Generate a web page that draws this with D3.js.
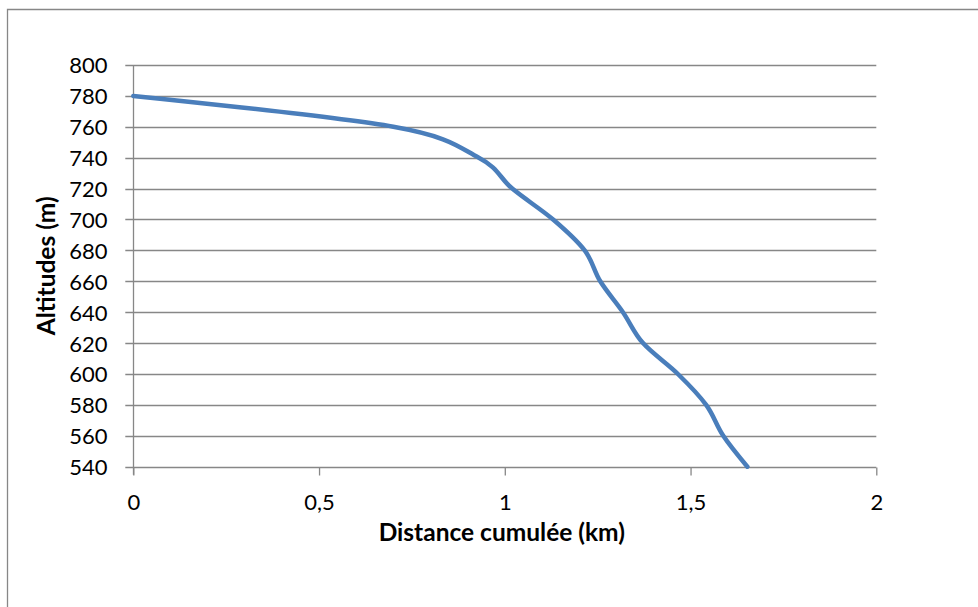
<!DOCTYPE html>
<html><head><meta charset="utf-8">
<script src="https://cdn.jsdelivr.net/npm/d3@7"></script>
<style>body{margin:0;background:#fff}svg{display:block}text{font-family:Lato,"Open Sans",sans-serif;fill:#000}</style>
</head><body>
<svg id="c" width="978" height="607"></svg>
<script>
const distances = [0, 0.70, 0.93, 1.02, 1.13, 1.215, 1.257, 1.318, 1.372, 1.466, 1.542, 1.588, 1.653];
const altitudes = [780, 760, 740, 720, 700, 680, 660, 640, 620, 600, 580, 560, 540];
const xTicks = [0, 0.5, 1, 1.5, 2];
const yTicks = [540, 560, 580, 600, 620, 640, 660, 680, 700, 720, 740, 760, 780, 800];
const xTitle = "Distance cumulée (km)";
const yTitle = "Altitudes (m)";

const svg = d3.select("#c");
const L = 133.3, R = 876.3, T = 65, B = 466.7;
const x = d3.scaleLinear().domain([0, 2]).range([L, R]);
const y = d3.scaleLinear().domain([540, 800]).range([B, T]);
const fmt = d => String(d).replace(".", ",");

// outer border
svg.append("path").attr("d", "M7.5,607V9.5H978").attr("fill", "none").attr("stroke", "#878787").attr("stroke-width", 1.3);

// gridlines
svg.append("g").selectAll("line").data(yTicks).join("line")
  .attr("x1", L - 8).attr("x2", R).attr("y1", d => Math.round(y(d)) + 0.5).attr("y2", d => Math.round(y(d)) + 0.5)
  .attr("stroke", "#878787").attr("stroke-width", 1.3);

// y axis
const yAx = svg.append("g").attr("transform", `translate(${Math.round(L)+0.5},0)`)
  .call(d3.axisLeft(y).tickValues(yTicks).tickSize(0).tickPadding(26).tickFormat(fmt));
yAx.select(".domain").remove();
yAx.selectAll("text").attr("font-size", 22).attr("dy", "0.36em");
svg.append("line").attr("x1", Math.round(L)+0.5).attr("x2", Math.round(L)+0.5).attr("y1", T).attr("y2", B + 8)
  .attr("stroke", "#878787").attr("stroke-width", 1.3);

// x axis
const xAx = svg.append("g").attr("transform", `translate(0,${Math.round(B)+0.5})`)
  .call(d3.axisBottom(x).tickValues(xTicks).tickSize(8).tickPadding(19).tickFormat(fmt));
xAx.select(".domain").remove();
xAx.selectAll("line").attr("stroke", "#878787").attr("stroke-width", 1.3);
xAx.selectAll("text").attr("font-size", 22);

// titles
svg.append("text").attr("x", (L + R) / 2 - 3).attr("y", 541).attr("text-anchor", "middle")
  .attr("font-size", 24.5).attr("font-weight", "bold").text(xTitle);
svg.append("text").attr("transform", `translate(55,${(T + B) / 2}) rotate(-90)`).attr("text-anchor", "middle")
  .attr("font-size", 24.5).attr("font-weight", "bold").text(yTitle);

// line
const pts = distances.map((d, i) => [d, altitudes[i]]);
svg.append("path").datum(pts)
  .attr("d", d3.line().x(d => x(d[0])).y(d => y(d[1])).curve(d3.curveCatmullRom.alpha(0)))
  .attr("fill", "none").attr("stroke", "#4a7ebb").attr("stroke-width", 4.5).attr("stroke-linecap", "round");
</script>
</body></html>
